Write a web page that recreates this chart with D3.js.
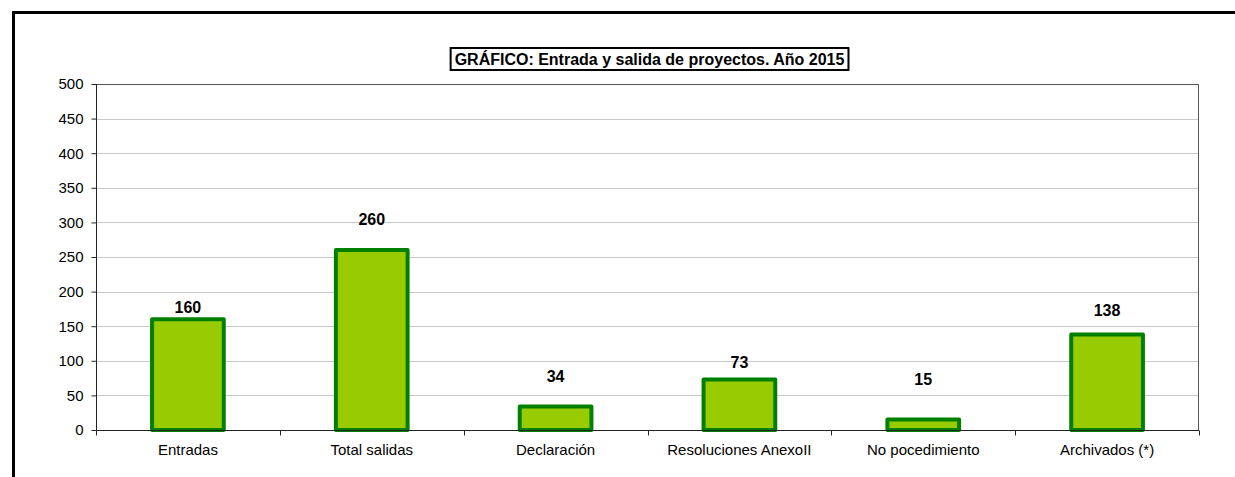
<!DOCTYPE html>
<html lang="es">
<head>
    <meta charset="UTF-8">
    <title>Entrada y salida de proyectos 2015</title>
    <style>
        html, body { margin: 0; background: #fff; overflow: hidden; }
        svg { display: block; }
        text { font-family: Arial, "Liberation Sans", sans-serif; fill: #000; }
        .grid line { stroke: #c8c8c8; stroke-width: 1px; }
        .tick-label { font-size: 15px; }
        .val { font-size: 16px; font-weight: bold; }
    </style>
    <script src="https://d3js.org/d3.v7.min.js"></script>
</head>
<body>
<svg></svg>
<script>
    // data
    const categories = ["Entradas", "Total salidas", "Declaración", "Resoluciones AnexoII", "No pocedimiento", "Archivados (*)"];
    const values = [160, 260, 34, 73, 15, 138];
    const yTicks = [0, 50, 100, 150, 200, 250, 300, 350, 400, 450, 500];
    const title = "GRÁFICO: Entrada y salida de proyectos. Año 2015";

    // where the value labels sit above each bar (px), as in the original
    const labelLift = [12, 31, 30, 17, 40, 24];

    const width = 1235, height = 477;
    const margin = { top: 84, right: 36, bottom: 47, left: 96 };
    const svg = d3.select("svg").attr("width", width).attr("height", height);

    const x = d3.scaleBand()
        .domain(categories)
        .range([margin.left, width - margin.right])
        .padding(0);

    const y = d3.scaleLinear()
        .domain([0, 500])
        .range([height - margin.bottom, margin.top]);

    // outer chart frame (only top and left are visible in the crop)
    svg.append("path")
        .attr("d", `M13.5,${height}V12.5H${width}`)
        .attr("fill", "none")
        .attr("stroke", "#000")
        .attr("stroke-width", 3);

    // gridlines
    svg.append("g")
        .attr("class", "grid")
        .selectAll("line")
        .data(yTicks.filter(d => d > 0 && d < 500))
        .enter().append("line")
        .attr("x1", margin.left).attr("x2", width - margin.right)
        .attr("y1", d => Math.round(y(d)) + 0.5)
        .attr("y2", d => Math.round(y(d)) + 0.5);

    // plot area border top/right
    svg.append("path")
        .attr("d", `M${margin.left},${y(500) + 0.5}H${width - margin.right - 0.5}V${y(0)}`)
        .attr("fill", "none")
        .attr("stroke", "#555")
        .attr("stroke-width", 1);

    // bars
    const barW = x.bandwidth() * 0.39;
    svg.append("g")
        .selectAll("rect")
        .data(values)
        .enter().append("rect")
        .attr("x", (d, i) => x(categories[i]) + (x.bandwidth() - barW) / 2)
        .attr("y", d => y(d))
        .attr("width", barW)
        .attr("height", d => y(0) - y(d))
        .attr("fill", "#99CC00")
        .attr("stroke", "#008000")
        .attr("stroke-width", 4)
        .attr("stroke-linejoin", "round");

    // value labels
    svg.append("g")
        .selectAll("text")
        .data(values)
        .enter().append("text")
        .attr("class", "val")
        .attr("x", (d, i) => x(categories[i]) + x.bandwidth() / 2)
        .attr("y", (d, i) => y(d) - labelLift[i])
        .attr("dy", "0.35em")
        .attr("text-anchor", "middle")
        .text(d => d);

    // y axis
    const yAxis = svg.append("g")
        .attr("transform", `translate(${margin.left + 0.5},0)`)
        .call(d3.axisLeft(y).tickValues(yTicks).tickSize(5).tickPadding(8));
    yAxis.select(".domain").attr("stroke", "#222").attr("d", `M0,${y(500)}V${y(0)}`);
    yAxis.selectAll(".tick line").attr("stroke", "#222");
    yAxis.selectAll(".tick text").attr("class", "tick-label").attr("font-family", null).attr("font-size", null);

    // x axis with ticks on category boundaries
    const xAxisG = svg.append("g")
        .attr("transform", `translate(0,${y(0) + 0.5})`);
    xAxisG.append("path")
        .attr("d", `M${margin.left},0H${width - margin.right}`)
        .attr("stroke", "#222");
    const bounds = categories.map(c => x(c)).concat([width - margin.right]);
    xAxisG.selectAll("line.b")
        .data(bounds)
        .enter().append("line")
        .attr("class", "b")
        .attr("x1", d => Math.round(d) + 0.5).attr("x2", d => Math.round(d) + 0.5)
        .attr("y1", 0).attr("y2", 5)
        .attr("stroke", "#222");
    xAxisG.selectAll("text")
        .data(categories)
        .enter().append("text")
        .attr("class", "tick-label")
        .attr("x", d => x(d) + x.bandwidth() / 2)
        .attr("y", 24)
        .attr("text-anchor", "middle")
        .text(d => d);

    // boxed title
    const titleG = svg.append("g");
    const box = titleG.append("rect");
    const t = titleG.append("text")
        .attr("x", (margin.left + width - margin.right) / 2 + 2)
        .attr("y", 59)
        .attr("dy", "0.35em")
        .attr("text-anchor", "middle")
        .attr("font-size", 16)
        .attr("font-weight", "bold")
        .text(title);
    const bb = t.node().getBBox();
    box.attr("x", bb.x - 4).attr("y", 48)
        .attr("width", bb.width + 8).attr("height", 22)
        .attr("fill", "#fff")
        .attr("stroke", "#000")
        .attr("stroke-width", 2);
</script>
</body>
</html>
